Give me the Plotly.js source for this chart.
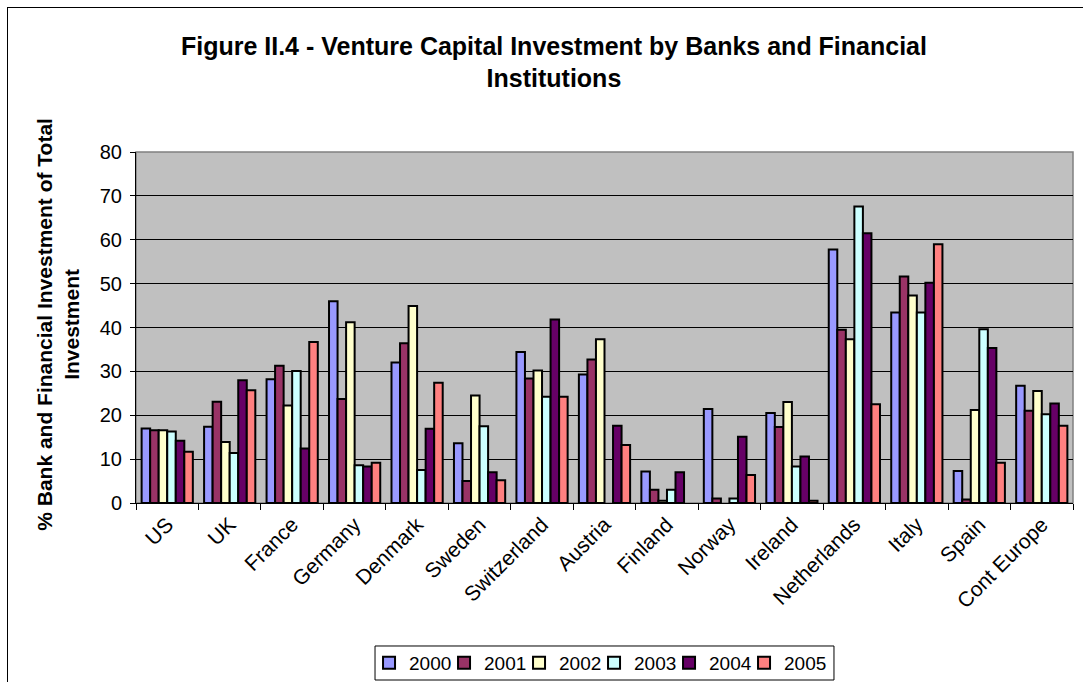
<!DOCTYPE html>
<html>
<head>
<meta charset="utf-8">
<script src="https://cdn.plot.ly/plotly-3.0.1.min.js"></script>
<style>
  html, body { margin: 0; padding: 0; background: #fff; }
  #chart { width: 1083px; height: 682px; position: relative; }
  #frame { position: absolute; left: 7px; top: 7px; width: 2000px; height: 2000px;
           border-left: 1px solid #000; border-top: 1px solid #000; pointer-events: none; }
</style>
</head>
<body>
<div id="chart"></div>
<div id="frame"></div>
<script>
const countries = ['US','UK','France','Germany','Denmark','Sweden','Switzerland','Austria','Finland','Norway','Ireland','Netherlands','Italy','Spain','Cont Europe'];
const years = ['2000','2001','2002','2003','2004','2005'];
const v2000 = [17.0, 17.4, 28.2, 46.0, 32.0, 13.6, 34.4, 29.3, 7.2, 21.4, 20.5, 57.8, 43.4, 7.3, 26.7];
const v2001 = [16.6, 23.1, 31.3, 23.7, 36.4, 5.0, 28.4, 32.7, 3.0, 1.0, 17.3, 39.5, 51.6, 0.8, 21.0];
const v2002 = [16.6, 13.9, 22.2, 41.2, 44.9, 24.5, 30.2, 37.3, 0.5, null, 23.0, 37.3, 47.3, 21.2, 25.5];
const v2003 = [16.3, 11.4, 30.1, 8.6, 7.5, 17.5, 24.2, null, 3.0, 1.0, 8.3, 67.6, 43.4, 39.6, 20.2];
const v2004 = [14.2, 28.0, 12.4, 8.3, 16.9, 7.0, 41.8, 17.6, 7.0, 15.1, 10.6, 61.5, 50.2, 35.3, 22.7];
const v2005 = [11.7, 25.7, 36.7, 9.2, 27.4, 5.2, 24.2, 13.2, null, 6.4, 0.5, 22.5, 59.0, 9.2, 17.6];
const series = [v2000, v2001, v2002, v2003, v2004, v2005];
const colors = ['#9999FF', '#993366', '#FFFFCC', '#CCFFFF', '#660066', '#FF8080'];

const traces = years.map((yr, i) => ({
  type: 'bar',
  name: yr,
  x: countries,
  y: series[i],
  marker: { color: colors[i], line: { color: '#000', width: 2 } }
}));

const font = 'Liberation Sans, Arial, sans-serif';
const layout = {
  width: 1083, height: 682,
  margin: { l: 136, r: 10, t: 152, b: 179 },
  paper_bgcolor: '#fff',
  plot_bgcolor: '#C0C0C0',
  barmode: 'group',
  bargap: 0.18,
  bargroupgap: 0,
  font: { family: font, size: 20, color: '#000' },
  title: {
    text: '<b>Figure II.4 - Venture Capital Investment by Banks and Financial<br>Institutions</b>',
    font: { family: font, size: 25, color: '#000' },
    x: 0.5115, xref: 'container', xanchor: 'center',
    y: 0.92, yref: 'container', yanchor: 'middle'
  },
  xaxis: {
    type: 'category',
    tickangle: -45,
    tickson: 'boundaries',
    ticks: 'outside', ticklen: 6, tickcolor: '#000',
    showline: true, linecolor: '#000', linewidth: 1,
    showgrid: false,
    tickfont: { family: font, size: 21 },
    automargin: false
  },
  yaxis: {
    range: [0, 80],
    dtick: 10,
    ticks: 'outside', ticklen: 5, tickcolor: '#000',
    ticklabelstandoff: 4,
    showline: true, linecolor: '#000', linewidth: 1,
    showgrid: true, gridcolor: '#000', gridwidth: 1,
    zeroline: false,
    tickfont: { family: font, size: 20 },
    automargin: false
  },
  annotations: [{
    text: '<b>% Bank and Financial Investment of Total<br>Investment</b>',
    textangle: -90,
    xref: 'paper', yref: 'paper',
    x: -0.0835, y: 0.51,
    xanchor: 'center', yanchor: 'middle',
    showarrow: false,
    font: { family: font, size: 21, color: '#000' }
  }],
  shapes: [{
    type: 'rect', xref: 'paper', yref: 'paper',
    x0: 0, x1: 1, y0: 0, y1: 1,
    line: { color: '#808080', width: 1.5 },
    layer: 'below'
  }, {
    type: 'rect', xref: 'paper', yref: 'paper',
    x0: 0.2551, x1: 0.7449, y0: -0.5043, y1: -0.4074,
    line: { color: '#000', width: 1 },
    fillcolor: 'rgba(0,0,0,0)',
    layer: 'above'
  }],
  legend: {
    orientation: 'h',
    x: 0.2487, xanchor: 'left',
    y: 0.0279, yref: 'container', yanchor: 'middle',
    bgcolor: 'rgba(0,0,0,0)',
    borderwidth: 0,
    font: { family: font, size: 19 },
    entrywidth: 30,
    traceorder: 'normal'
  },
  showlegend: true
};

Plotly.newPlot('chart', traces, layout, { displayModeBar: false, staticPlot: true }).then(gd => {
  gd.querySelectorAll('.legend .scrollbox, .legend').forEach(el => el.removeAttribute('clip-path'));
});
</script>
</body>
</html>
